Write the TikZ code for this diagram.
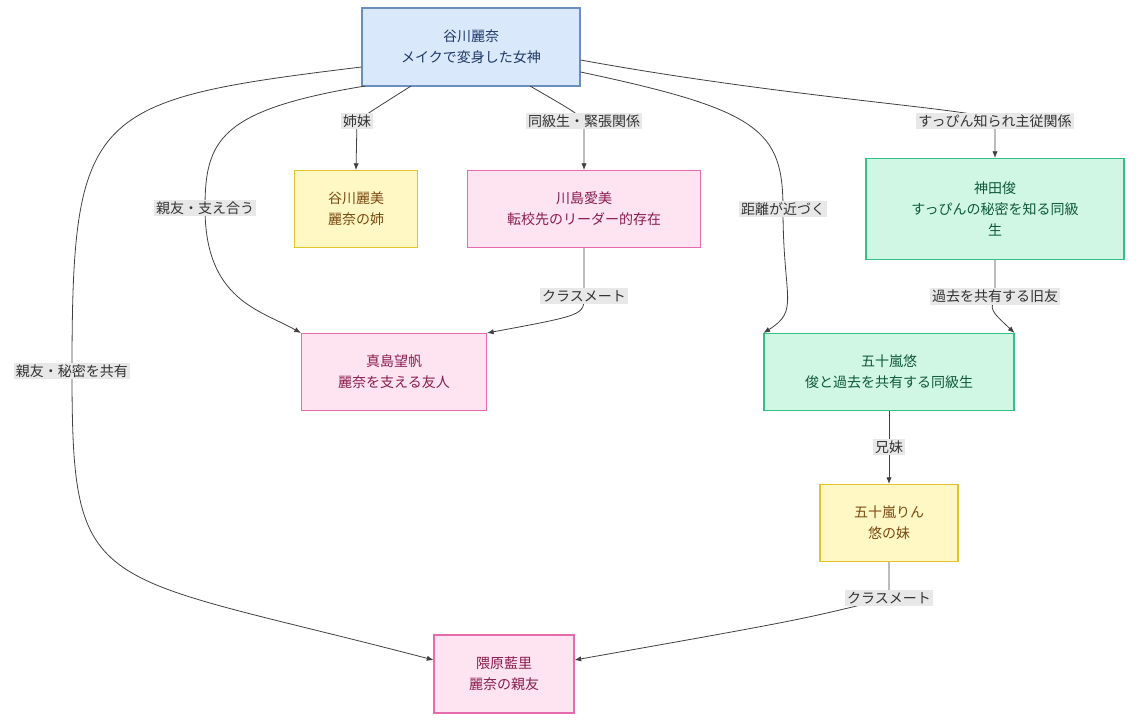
\documentclass[tikz,border=0pt]{standalone}
\usepackage{fontspec}
\setmainfont{Noto Sans CJK JP}
\usetikzlibrary{positioning,arrows.meta}

\definecolor{bluefill}{HTML}{DAE8FC}
\definecolor{blueline}{HTML}{6C8EBF}
\definecolor{bluetext}{HTML}{1F3A66}
\definecolor{yelfill}{HTML}{FFF8C4}
\definecolor{yelline}{HTML}{E6C229}
\definecolor{yeltext}{HTML}{7A4A12}
\definecolor{pinkfill}{HTML}{FDE4F0}
\definecolor{pinkline}{HTML}{E66AAE}
\definecolor{pinktext}{HTML}{8A1C4E}
\definecolor{grnfill}{HTML}{D0F7E4}
\definecolor{grnline}{HTML}{36BF86}
\definecolor{grntext}{HTML}{0E5A38}
\definecolor{lblfill}{HTML}{E8E8E8}

\tikzset{
  box/.style={draw, line width=0.8pt, align=center, font=\fontsize{10.5}{16}\selectfont,
    inner sep=0pt},
  bluebox/.style={box, fill=bluefill, draw=blueline, text=bluetext},
  yelbox/.style={box, fill=yelfill, draw=yelline, text=yeltext},
  pinkbox/.style={box, fill=pinkfill, draw=pinkline, text=pinktext},
  grnbox/.style={box, fill=grnfill, draw=grnline, text=grntext},
  lbl/.style={fill=lblfill, inner sep=1.5pt, font=\fontsize{10.5}{12}\selectfont, text=black!80},
  link/.style={draw=black!75, line width=0.6pt, -{Latex[length=5pt,width=4pt]}}
}

\begin{document}
\begin{tikzpicture}[x=0.75pt,y=-0.75pt]
  \useasboundingbox (0,0) rectangle (1140,726);

  % Characters
  \node[bluebox, minimum width=218*0.75pt, minimum height=78*0.75pt] (rena) at (471,47) {谷川麗奈\\メイクで変身した女神};
  \node[yelbox, minimum width=123*0.75pt, minimum height=77*0.75pt] (remi) at (356,209) {谷川麗美\\麗奈の姉};
  \node[pinkbox, minimum width=233*0.75pt, minimum height=77*0.75pt] (manami) at (584,209) {川島愛美\\転校先のリーダー的存在};
  \node[grnbox, minimum width=258*0.75pt, minimum height=101*0.75pt] (shun) at (995,209) {神田俊\\すっぴんの秘密を知る同級\\生};
  \node[pinkbox, minimum width=185*0.75pt, minimum height=77*0.75pt] (miho) at (394,372) {真島望帆\\麗奈を支える友人};
  \node[grnbox, minimum width=250*0.75pt, minimum height=77*0.75pt] (yu) at (889,372) {五十嵐悠\\俊と過去を共有する同級生};
  \node[yelbox, minimum width=138*0.75pt, minimum height=77*0.75pt] (rin) at (889,523) {五十嵐りん\\悠の妹};
  \node[pinkbox, minimum width=140*0.75pt, minimum height=78*0.75pt] (airi) at (504,674) {隈原藍里\\麗奈の親友};

  % Label anchors
  \coordinate (rena-remi) at (357,121);
  \coordinate (rena-manami) at (584,121);
  \coordinate (rena-miho) at (205,208);
  \coordinate (rena-airi) at (72,371);
  \coordinate (rena-yu) at (783,209);
  \coordinate (rena-shun) at (995,121);
  \coordinate (manami-miho) at (584,296);
  \coordinate (shun-yu) at (995,296);
  \coordinate (yu-rin) at (889,447);
  \coordinate (rin-airi) at (889,598);

  % Relations
  \draw[link] (411,86) .. controls (370,112) .. (rena-remi) -- (remi.north);
  \draw[link] (530,86) .. controls (575,112) .. (rena-manami) -- (manami.north);
  \draw[link] (365,86) .. controls (220,110) and (205,140) .. (rena-miho)
    .. controls (205,300) and (260,310) .. (miho.north west);
  \draw[link] (rena.west |- 0,67) .. controls (90,100) and (72,110) .. (rena-airi)
    .. controls (72,600) and (90,570) .. (airi.west |- 0,660);
  \draw[link] (rena.east |- 0,72) .. controls (760,110) and (783,130) .. (rena-yu)
    .. controls (783,300) and (800,310) .. (yu.north west);
  \draw[link] (rena.east |- 0,60) .. controls (800,100) and (995,110) .. (rena-shun) -- (shun.north);
  \draw[link] (manami.south) -- (manami-miho) .. controls (584,315) .. (miho.north east);
  \draw[link] (shun.south) -- (shun-yu) .. controls (990,310) .. (yu.north east);
  \draw[link] (yu.south) -- (rin.north);
  \draw[link] (rin.south) .. controls (889,585) .. (rin-airi) .. controls (800,620) .. (airi.east |- 0,660);

  % Labels
  \node[lbl] at (rena-remi) {姉妹};
  \node[lbl] at (rena-manami) {同級生・緊張関係};
  \node[lbl] at (rena-miho) {親友・支え合う};
  \node[lbl] at (rena-airi) {親友・秘密を共有};
  \node[lbl] at (rena-yu) {距離が近づく};
  \node[lbl] at (rena-shun) {すっぴん知られ主従関係};
  \node[lbl] at (manami-miho) {クラスメート};
  \node[lbl] at (shun-yu) {過去を共有する旧友};
  \node[lbl] at (yu-rin) {兄妹};
  \node[lbl] at (rin-airi) {クラスメート};
\end{tikzpicture}
\end{document}
